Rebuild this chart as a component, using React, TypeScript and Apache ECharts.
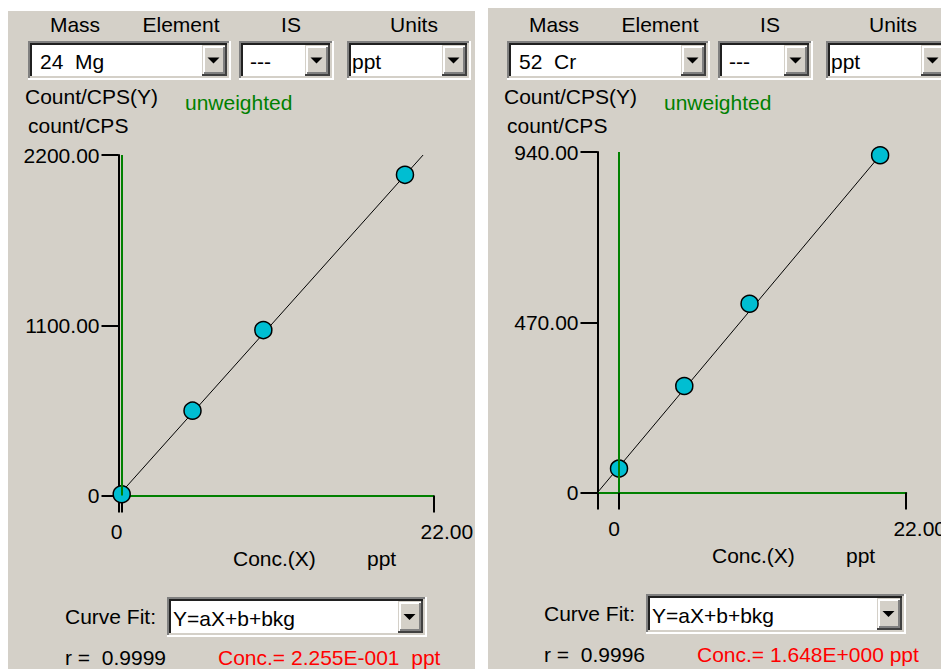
import React, { useEffect, useRef } from "react";
import * as echarts from "echarts";

const FONT_FAMILY = '"Liberation Sans", Arial, sans-serif';
const FONT_SIZE = 21;
const PANEL_GRAY = "#d4d0c8";
const GREEN = "#008000";
const RED = "#ff0000";
const CYAN = "#00bed2";

// ---- data ----
const headerLabels = ["Mass", "Element", "IS", "Units"];
const elementLabels = ["24  Mg", "52  Cr"];
const isLabels = ["---", "---"];
const unitLabels = ["ppt", "ppt"];
const yTitle = "Count/CPS(Y)";
const yUnit = "count/CPS";
const weightingLabel = "unweighted";
const xTitle = "Conc.(X)";
const xUnit = "ppt";
const curveFitLabel = "Curve Fit:";
const curveFitValues = ["Y=aX+b+bkg", "Y=aX+b+bkg"];
const rTexts = ["r =  0.9999", "r =  0.9996"];
const concTexts = ["Conc.= 2.255E-001  ppt", "Conc.= 1.648E+000 ppt"];
const becValues = [0.2255, 1.648];
const slopes = [102.3, 43.0];
const xMaxValues = [22, 22];
const yMaxValues = [2200, 940];
const stdConcMg = [0, 5, 10, 20];
const countsMg = [8, 548, 1069, 2072];
const stdConcCr = [0, 5, 10, 20];
const countsCr = [66, 294, 521, 931];
const stdConc = [stdConcMg, stdConcCr];
const counts = [countsMg, countsCr];

// ---- layout (page coordinates; body margin 8) ----
const M = 8;
const PANEL_DX = [0, 479];
const CHART_DY = [0, -3];

function buildOption() {
  const els: any[] = [];
  const font = `${FONT_SIZE}px ${FONT_FAMILY}`;
  const rect = (x: number, y: number, w: number, h: number, fill: string) =>
    els.push({ type: "rect", silent: true, z: 10, shape: { x: x - M, y: y - M, width: w, height: h }, style: { fill } });
  const text = (x: number, y: number, t: string, fill = "#000", align = "left") =>
    els.push({
      type: "text", silent: true, z: 20, x: x - M, y: y - M,
      style: { text: t, font, fill, align, textAlign: align, verticalAlign: "middle", textVerticalAlign: "middle" },
    });
  const combo = (x: number, y: number, w: number, h: number, t: string, tx: number) => {
    rect(x, y, w, h, "#ffffff");
    rect(x, y, w, 2, "#808080");
    rect(x, y, 2, h, "#808080");
    rect(x + 2, y + 2, w - 4, 2, "#202020");
    rect(x + 2, y + 2, 2, h - 4, "#202020");
    rect(x, y + h - 2, w, 2, "#ffffff");
    rect(x + w - 2, y, 2, h, "#ffffff");
    rect(x + 2, y + h - 4, w - 4, 2, PANEL_GRAY);
    rect(x + w - 4, y + 2, 2, h - 4, PANEL_GRAY);
    const bw = 25;
    const bx = x + w - 4 - bw;
    const by = y + 4;
    const bh = h - 8;
    rect(bx, by, bw, bh, PANEL_GRAY);
    rect(bx + 1, by + 1, bw - 2, 2, "#ffffff");
    rect(bx + 1, by + 1, 2, bh - 2, "#ffffff");
    rect(bx, by + bh - 2, bw, 2, "#404040");
    rect(bx + bw - 2, by, 2, bh, "#404040");
    rect(bx + 2, by + bh - 4, bw - 4, 2, "#808080");
    rect(bx + bw - 4, by + 2, 2, bh - 4, "#808080");
    const cx = bx + bw / 2 - 1;
    const cy = by + bh / 2;
    els.push({
      type: "polygon", silent: true, z: 15,
      shape: { points: [[cx - 6 - M, cy - 3 - M], [cx + 6 - M, cy - 3 - M], [cx - M, cy + 3 - M]] },
      style: { fill: "#000" },
    });
    text(tx, y + h / 2 + 1, t);
  };

  // white gaps (background is panel gray)
  rect(475, 0, 13, 700, "#ffffff");
  rect(0, 0, 475, 11, "#ffffff");

  const headerX = [75, 181, 291, 414];
  const grids: any[] = [];
  const xAxes: any[] = [];
  const yAxes: any[] = [];
  const series: any[] = [];

  for (let i = 0; i < 2; i++) {
    const dx = PANEL_DX[i];
    const dy = CHART_DY[i];
    headerLabels.forEach((h, k) => text(headerX[k] + dx, 24, h, "#000", "center"));
    combo(28 + dx, 41, 203, 39, elementLabels[i], 40 + dx);
    combo(239 + dx, 41, 95, 39, isLabels[i], 250 + dx);
    combo(347 + dx, 41, 124, 39, unitLabels[i], 352 + dx);
    text(25 + dx, 96, yTitle);
    text(185 + dx, 102, weightingLabel, GREEN);
    text(28 + dx, 125, yUnit);
    text(233 + dx, 558 + dy, xTitle);
    text(367 + dx, 558 + dy, xUnit);
    text(65 + dx, 616 + dy, curveFitLabel);
    combo(167 + dx, 597 + dy, 260, 40, curveFitValues[i], 173 + dx);
    text(65 + dx, 657 + dy, rTexts[i]);
    text(218 + dx, 657 + dy, concTexts[i], RED);

    const bec = becValues[i];
    const xmax = xMaxValues[i];
    const ymax = yMaxValues[i];
    grids.push({ left: 118.5 + dx - M, top: 155 + dy - M, width: 314.8, height: 340.5 });
    const labelTextStyle = { fontFamily: FONT_FAMILY, fontSize: FONT_SIZE, color: "#000" };
    xAxes.push({
      gridIndex: i, type: "value", min: -bec, max: xmax,
      axisLine: { show: true, onZero: false, lineStyle: { color: GREEN, width: 2 } },
      axisTick: { show: true, customValues: [-bec, 0, xmax], length: 17, lineStyle: { color: "#000", width: 2 } },
      axisLabel: {
        show: true, customValues: [0, xmax], margin: 25, ...labelTextStyle,
        formatter: (v: number) => (v === 0 ? "{a|0}" : "{b|" + v.toFixed(2) + "}"),
        rich: {
          a: { ...labelTextStyle, padding: [0, 10, 0, 0] },
          b: { ...labelTextStyle, padding: [0, 0, 0, 27] },
        },
      },
      splitLine: { show: false },
    });
    yAxes.push({
      gridIndex: i, type: "value", min: 0, max: ymax, interval: ymax / 2,
      axisLine: { show: true, onZero: false, lineStyle: { color: "#000", width: 2 } },
      axisTick: { show: true, length: 17, lineStyle: { color: "#000", width: 2 } },
      axisLabel: { margin: 19, ...labelTextStyle, formatter: (v: number) => (v === 0 ? "0" : v.toFixed(2)) },
      splitLine: { show: false },
    });
    const slope = slopes[i];
    series.push({
      type: "line", xAxisIndex: i, yAxisIndex: i, symbol: "none", z: 3,
      data: [[-bec, 0], [ymax / slope - bec, ymax]],
      lineStyle: { color: "#000", width: 1 },
      markLine: {
        silent: true, symbol: ["none", "none"], label: { show: false },
        lineStyle: { color: GREEN, width: 2, type: "solid" },
        data: [[{ coord: [0, 0] }, { coord: [0, ymax] }]],
      },
    });
    series.push({
      type: "scatter", xAxisIndex: i, yAxisIndex: i, z: 4,
      symbol: "circle", symbolSize: 17,
      itemStyle: { color: CYAN, borderColor: "#000", borderWidth: 1.5, opacity: 1 },
      data: stdConc[i].map((x, k) => [x, counts[i][k]]),
    });
  }

  return {
    animation: false,
    backgroundColor: PANEL_GRAY,
    grid: grids,
    xAxis: xAxes,
    yAxis: yAxes,
    series,
    graphic: { elements: els },
  };
}

export default function App() {
  const ref = useRef<HTMLDivElement>(null);
  useEffect(() => {
    if (!ref.current) return;
    const chart = echarts.init(ref.current, undefined, { renderer: "svg" });
    chart.setOption(buildOption() as any);
    return () => chart.dispose();
  }, []);
  return <div ref={ref} style={{ width: 941, height: 661 }} />;
}
